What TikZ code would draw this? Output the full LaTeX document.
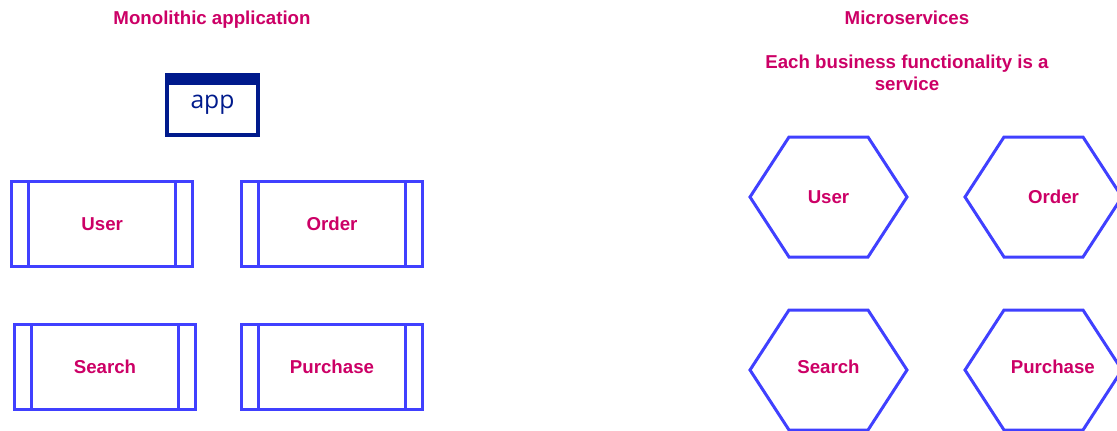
\documentclass[tikz,border=0pt]{standalone}
\usepackage{fontspec}
\setmainfont{Liberation Sans}
\newfontfamily\appfont{Open Sans}
\definecolor{labelpink}{RGB}{204,0,102}
\definecolor{modblue}{RGB}{64,64,255}
\definecolor{appnavy}{RGB}{0,26,140}
\begin{document}
\begin{tikzpicture}[x=0.75pt, y=-0.75pt, line join=miter,
    lbl/.style={font=\bfseries\fontsize{14}{16.5}\selectfont, text=labelpink, inner sep=0pt, align=center},
    module/.style={lbl, draw=modblue, line width=2.25pt, minimum width=136pt, minimum height=63.75pt},
    bar/.style={draw=modblue, line width=2.25pt},
    hexline/.style={draw=modblue, line width=2.25pt},
    appbox/.style={draw=appnavy, line width=3pt, minimum width=68.25pt, minimum height=45pt,
      text=appnavy, font=\appfont\fontsize{18.5}{20}\selectfont}]
	% Window in pixels of the original
	\useasboundingbox (0,0) rectangle (1117,430);
	\clip (0,0) rectangle (1117,430);
	
	% Titles
	\node[lbl] (monotitle) at (212,20) {Monolithic application};
	\node[lbl] (microtitle) at (907,18) {Microservices};
	\node[lbl] (microsub) at (907,73) {Each business functionality is a\\service};
	
	% Monolith: one app holding all modules
	\node[appbox] (app) at (212.5,105) {app};
	\fill[appnavy] (app.north west) rectangle ([yshift=-9pt]app.north east);
	
	\node[module] (user) at (102.25,224) {User};
	\node[module] (order) at (332,224) {Order};
	\node[module] (search) at (105,367) {Search};
	\node[module] (purchase) at (332,367) {Purchase};
	\foreach \m in {user,order,search,purchase}{
		\draw[bar] ([xshift=14pt]\m.north west) -- ([xshift=14pt]\m.south west);
		\draw[bar] ([xshift=-14pt]\m.north east) -- ([xshift=-14pt]\m.south east);
	}
	
	% Microservices: one hexagon per service
	\foreach \n/\x/\y in {huser/828.5/197, horder/1043.5/197, hsearch/828.5/370, hpurchase/1043.5/370}{
		\coordinate (\n) at (\x,\y);
		\draw[hexline] (\n) ++(-78.5,0) -- ++(39,-60) -- ++(79,0) -- ++(39,60)
			-- ++(-39,60) -- ++(-79,0) -- cycle;
	}
	\node[lbl] (suser) at (huser) {User};
	\node[lbl] (sorder) at ([xshift=7.5pt]horder) {Order};
	\node[lbl] (ssearch) at ([yshift=2.25pt]hsearch) {Search};
	\node[lbl] (spurchase) at ([xshift=7pt,yshift=2.25pt]hpurchase) {Purchase};
\end{tikzpicture}
\end{document}
